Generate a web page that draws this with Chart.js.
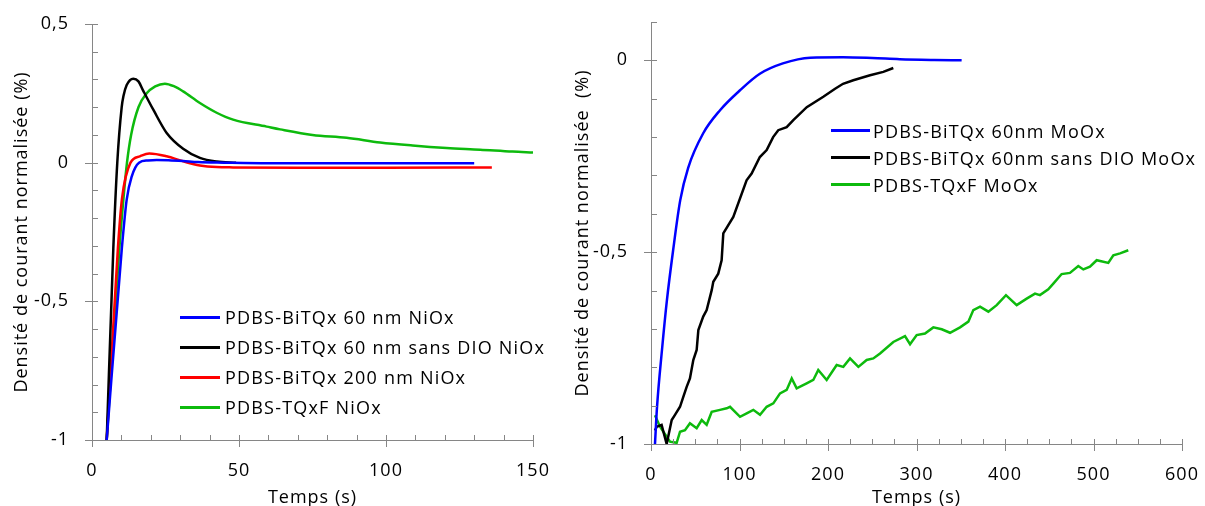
<!DOCTYPE html>
<html>
<head>
<meta charset="utf-8">
<script src="https://cdn.jsdelivr.net/npm/chart.js@4.4.1/dist/chart.umd.min.js"></script>
<style>
  html, body { margin: 0; padding: 0; background: #fff; overflow: hidden; }
  #wrap { position: relative; width: 1205px; height: 506px; }
  .box { position: absolute; top: 0; height: 506px; }
  #leftBox { left: 0; width: 560px; }
  #rightBox { left: 560px; width: 645px; }
  .legend { position: absolute; font: 18px 'Open Sans', sans-serif; color: #000; letter-spacing: 1.2px; }
  .legend .row { display: flex; align-items: center; white-space: nowrap; }
  .legend .sw { display: inline-block; width: 40px; height: 3px; margin-right: 5px; }
  #leftLegend { left: 180px; top: 302px; }
  #leftLegend .row { height: 30px; }
  #rightLegend { left: 831px; top: 117px; }
  #rightLegend .row { height: 27px; }
  #rightLegend .sw { width: 39px; margin-right: 3px; }
</style>
</head>
<body>
<div id="wrap">
  <div class="box" id="leftBox"><canvas id="leftChart"></canvas></div>
  <div class="box" id="rightBox"><canvas id="rightChart"></canvas></div>
  <div class="legend" id="leftLegend"></div>
  <div class="legend" id="rightLegend"></div>
</div>
<script>
// ---- left chart (NiOx) ----
const leftLabels = ['PDBS-BiTQx 60 nm NiOx', 'PDBS-BiTQx 60 nm sans DIO NiOx', 'PDBS-BiTQx 200 nm NiOx', 'PDBS-TQxF NiOx'];

const niBlueT = [5, 10.1, 11.8, 13.5, 16, 19, 22, 26, 31, 36, 45, 60, 90, 110, 130];
const niBlueV = [-1, -0.315, -0.133, -0.05, 0, 0.008, 0.01, 0.009, 0.006, 0.002, 0, -0.002, -0.002, -0.002, -0.002];

const niBlackT = [5, 7.25, 8.6, 10.1, 10.7, 11.8, 14.05, 15.8, 17.4, 20.9, 25.4, 31, 36.7, 42.4, 49];
const niBlackV = [-1, -0.31, 0, 0.2, 0.24, 0.28, 0.303, 0.293, 0.26, 0.19, 0.107, 0.05, 0.017, 0.004, 0];

const niRedT = [5, 8.8, 10.2, 13.1, 16.3, 19.5, 25.4, 31, 36.7, 42.4, 48, 70, 100, 136];
const niRedV = [-1, -0.31, -0.13, 0, 0.023, 0.033, 0.023, 0.005, -0.01, -0.016, -0.017, -0.018, -0.018, -0.017];

const niGreenT = [5, 9.3, 10.7, 11.9, 13.3, 15.8, 18.6, 21.5, 24.8, 28, 31, 36.7, 42.4, 48, 59.4, 64, 75, 86.6, 98, 109, 120.6, 132, 143, 150];
const niGreenV = [-1, -0.31, -0.13, 0, 0.1, 0.2, 0.25, 0.275, 0.285, 0.275, 0.257, 0.215, 0.18, 0.155, 0.13, 0.12, 0.1, 0.09, 0.073, 0.062, 0.053, 0.047, 0.04, 0.037];

const leftXMajor = [0, 50, 100, 150];
const leftYMajor = [-1, -0.5, 0, 0.5];

// ---- right chart (MoOx) ----
const rightLabels = ['PDBS-BiTQx 60nm MoOx', 'PDBS-BiTQx 60nm sans DIO MoOx', 'PDBS-TQxF MoOx'];

const moBlueT = [4.5, 6.8, 12.4, 18, 25, 33, 42, 59, 78, 100.6, 123, 149, 180, 217, 250, 281, 320, 351];
const moBlueV = [-1, -0.904, -0.755, -0.625, -0.495, -0.365, -0.28, -0.19, -0.13, -0.078, -0.035, -0.008, 0.007, 0.008, 0.006, 0.003, 0.001, 0];

const moBlackT = [4.5, 6.4, 12, 17.7, 23.4, 27.1, 32.8, 36.5, 40.3, 44, 47.8, 51.6, 53.5, 59, 62.9, 68.6, 70.4, 76, 79.8, 81.7, 93, 108, 113.7, 123, 130.7, 138, 143.8, 153.3, 160.8, 176, 194.7, 208, 217, 228.6, 247.5, 262.5, 273.8];
const moBlackV = [-0.965, -0.955, -0.95, -1, -0.9375, -0.924, -0.903, -0.877, -0.851, -0.829, -0.781, -0.755, -0.703, -0.668, -0.651, -0.599, -0.577, -0.556, -0.521, -0.451, -0.408, -0.3125, -0.295, -0.252, -0.234, -0.2, -0.182, -0.174, -0.156, -0.122, -0.095, -0.074, -0.061, -0.052, -0.039, -0.03, -0.02];

const moGreenT = [4.5, 10.2, 17.7, 21.5, 29, 32.8, 38.4, 44, 51.6, 57.3, 62.9, 68.6, 78, 85.5, 89.3, 100.6, 108.1, 115.6, 123.2, 130.7, 138.2, 145.8, 153.3, 159, 164.6, 175.9, 183.4, 189, 198.5, 209.8, 217.3, 224.9, 234.3, 243.7, 251.2, 258.8, 273.8, 287, 292.7, 300.2, 309.6, 319, 328.5, 337.9, 349.2, 358.6, 364.2, 371.8, 381.2, 390.6, 401.1, 413.2, 424.5, 433.9, 439.5, 448.9, 454.6, 464, 473.4, 482.8, 488.5, 496, 503.6, 516.7, 522.4, 530, 539.3];
const moGreenV = [-0.925, -0.955, -0.981, -0.994, -0.997, -0.968, -0.964, -0.946, -0.959, -0.9375, -0.95, -0.916, -0.911, -0.907, -0.903, -0.929, -0.92, -0.911, -0.924, -0.903, -0.894, -0.868, -0.859, -0.829, -0.855, -0.842, -0.833, -0.807, -0.833, -0.794, -0.799, -0.777, -0.799, -0.781, -0.777, -0.764, -0.734, -0.719, -0.74, -0.716, -0.712, -0.696, -0.701, -0.71, -0.696, -0.681, -0.651, -0.642, -0.655, -0.638, -0.612, -0.638, -0.621, -0.608, -0.612, -0.597, -0.582, -0.557, -0.554, -0.536, -0.545, -0.538, -0.521, -0.528, -0.508, -0.503, -0.495];

const rightXMajor = [0, 100, 200, 300, 400, 500, 600];
const rightYMajor = [-1, -0.5, 0];

const BLUE = '#0000FF', BLACK = '#000000', RED = '#FF0000', GREEN = '#0DBA0D';
const AXIS = '#868686';
const FONT = "'Open Sans', sans-serif";

function pts(t, v) { return t.map((x, i) => ({ x: x, y: v[i] })); }
function near(a, b) { return Math.abs(a - b) < 1e-6; }
function isMajor(v, majors) { return majors.some(m => near(m, v)); }
function fmt(v) { return String(Math.round(v * 10) / 10).replace('.', ','); }
function stepTicks(min, max, step) {
  const out = [];
  const n = Math.round((max - min) / step);
  for (let i = 0; i <= n; i++) out.push({ value: Math.round((min + i * step) * 1000) / 1000 });
  return out;
}

// the reference text is a bit wider than Open Sans, so space the letters out
const wideText = {
  id: 'wideText',
  beforeUpdate(chart) { chart.ctx.letterSpacing = '1px'; },
  beforeDraw(chart) { chart.ctx.letterSpacing = '1px'; }
};

// Excel style marks: majors cross the axis, minors sit inside
const axisMarks = {
  id: 'axisMarks',
  afterDatasetsDraw(chart, args, opts) {
    const ctx = chart.ctx, xs = chart.scales.x, ys = chart.scales.y;
    const left = chart.chartArea.left, bottom = chart.chartArea.bottom;
    ctx.save();
    ctx.strokeStyle = AXIS;
    ctx.lineWidth = 1;
    ctx.beginPath();
    xs.ticks.forEach(t => {
      const px = Math.round(xs.getPixelForValue(t.value)) + 0.5;
      ctx.moveTo(px, bottom - 5);
      ctx.lineTo(px, bottom + (isMajor(t.value, opts.xMajor) ? 7 : 0));
    });
    ys.ticks.forEach(t => {
      const py = Math.round(ys.getPixelForValue(t.value)) + 0.5;
      ctx.moveTo(left + 6, py);
      ctx.lineTo(left - (isMajor(t.value, opts.yMajor) ? 7 : 0), py);
    });
    ctx.stroke();
    ctx.restore();
  }
};

function makeChart(id, cfg) {
  const datasets = cfg.series.map(s => ({
    label: s.label,
    data: pts(s.t, s.v),
    borderColor: s.color,
    backgroundColor: s.color,
    borderWidth: 2.5,
    pointRadius: 0,
    fill: false,
    tension: s.smooth ? 0.4 : 0,
    cubicInterpolationMode: s.smooth ? 'monotone' : 'default'
  }));
  return new Chart(document.getElementById(id), {
    type: 'line',
    data: { datasets: datasets },
    plugins: [wideText, axisMarks],
    options: {
      responsive: true,
      maintainAspectRatio: false,
      animation: false,
      layout: { padding: cfg.padding },
      plugins: {
        legend: { display: false },
        tooltip: { enabled: false },
        axisMarks: { xMajor: cfg.xMajor, yMajor: cfg.yMajor }
      },
      scales: {
        x: {
          type: 'linear',
          min: cfg.xMin, max: cfg.xMax,
          afterBuildTicks: s => { s.ticks = stepTicks(cfg.xMin, cfg.xMax, cfg.xMinor); },
          afterFit: s => { s.height = cfg.xHeight; },
          // grid hidden: its tick length only serves as the gap under the axis
          grid: { display: false, drawTicks: true, tickLength: cfg.xTickGap },
          border: { display: true, color: AXIS, width: 1 },
          ticks: {
            autoSkip: false, maxRotation: 0, padding: 0, color: '#000',
            font: { family: FONT, size: 18 },
            callback: v => isMajor(v, cfg.xMajor) ? fmt(v) : ''
          },
          title: { display: true, text: 'Temps (s)', color: '#000', font: { family: FONT, size: 18 }, padding: { top: 0, bottom: -3 } }
        },
        y: {
          type: 'linear',
          min: cfg.yMin, max: cfg.yMax,
          afterBuildTicks: s => { s.ticks = stepTicks(cfg.yMin, cfg.yMax, 0.1); },
          afterFit: s => { s.width = cfg.yWidth; },
          grid: { display: false, drawTicks: true, tickLength: 23 },
          border: { display: true, color: AXIS, width: 1 },
          ticks: {
            autoSkip: false, padding: 0, color: '#000',
            font: { family: FONT, size: 18 },
            callback: v => isMajor(v, cfg.yMajor) ? fmt(v) : ''
          },
          title: { display: true, text: cfg.yTitle, color: '#000', font: { family: FONT, size: 18 }, padding: { top: cfg.yTitlePad, bottom: 0 } }
        }
      }
    }
  });
}

function makeLegend(id, labels, colors) {
  const el = document.getElementById(id);
  labels.forEach((l, i) => {
    const row = document.createElement('div');
    row.className = 'row';
    const sw = document.createElement('span');
    sw.className = 'sw';
    sw.style.background = colors[i];
    const tx = document.createElement('span');
    tx.textContent = l;
    row.appendChild(sw);
    row.appendChild(tx);
    el.appendChild(row);
  });
}

makeChart('leftChart', {
  series: [
    { label: leftLabels[0], t: niBlueT, v: niBlueV, color: BLUE, smooth: true },
    { label: leftLabels[1], t: niBlackT, v: niBlackV, color: BLACK, smooth: true },
    { label: leftLabels[2], t: niRedT, v: niRedV, color: RED, smooth: true },
    { label: leftLabels[3], t: niGreenT, v: niGreenV, color: GREEN, smooth: true }
  ],
  padding: { left: 0, right: 27, top: 24, bottom: 0 },
  xMin: 0, xMax: 150, xMinor: 10, xMajor: leftXMajor,
  yMin: -1, yMax: 0.5, yMajor: leftYMajor,
  xHeight: 66, yWidth: 92, xTickGap: 20, yTitlePad: 11,
  yTitle: 'Densité de courant normalisée (%)'
});

makeChart('rightChart', {
  series: [
    { label: rightLabels[0], t: moBlueT, v: moBlueV, color: BLUE, smooth: true },
    { label: rightLabels[1], t: moBlackT, v: moBlackV, color: BLACK, smooth: false },
    { label: rightLabels[2], t: moGreenT, v: moGreenV, color: GREEN, smooth: false }
  ],
  padding: { left: 0, right: 23, top: 22, bottom: 0 },
  xMin: 0, xMax: 600, xMinor: 25, xMajor: rightXMajor,
  yMin: -1, yMax: 0.1, yMajor: rightYMajor,
  xHeight: 62, yWidth: 91, xTickGap: 20, yTitlePad: 12,
  yTitle: 'Densité de courant normalisée  (%)'
});

makeLegend('leftLegend', leftLabels, [BLUE, BLACK, RED, GREEN]);
makeLegend('rightLegend', rightLabels, [BLUE, BLACK, GREEN]);
</script>
</body>
</html>
